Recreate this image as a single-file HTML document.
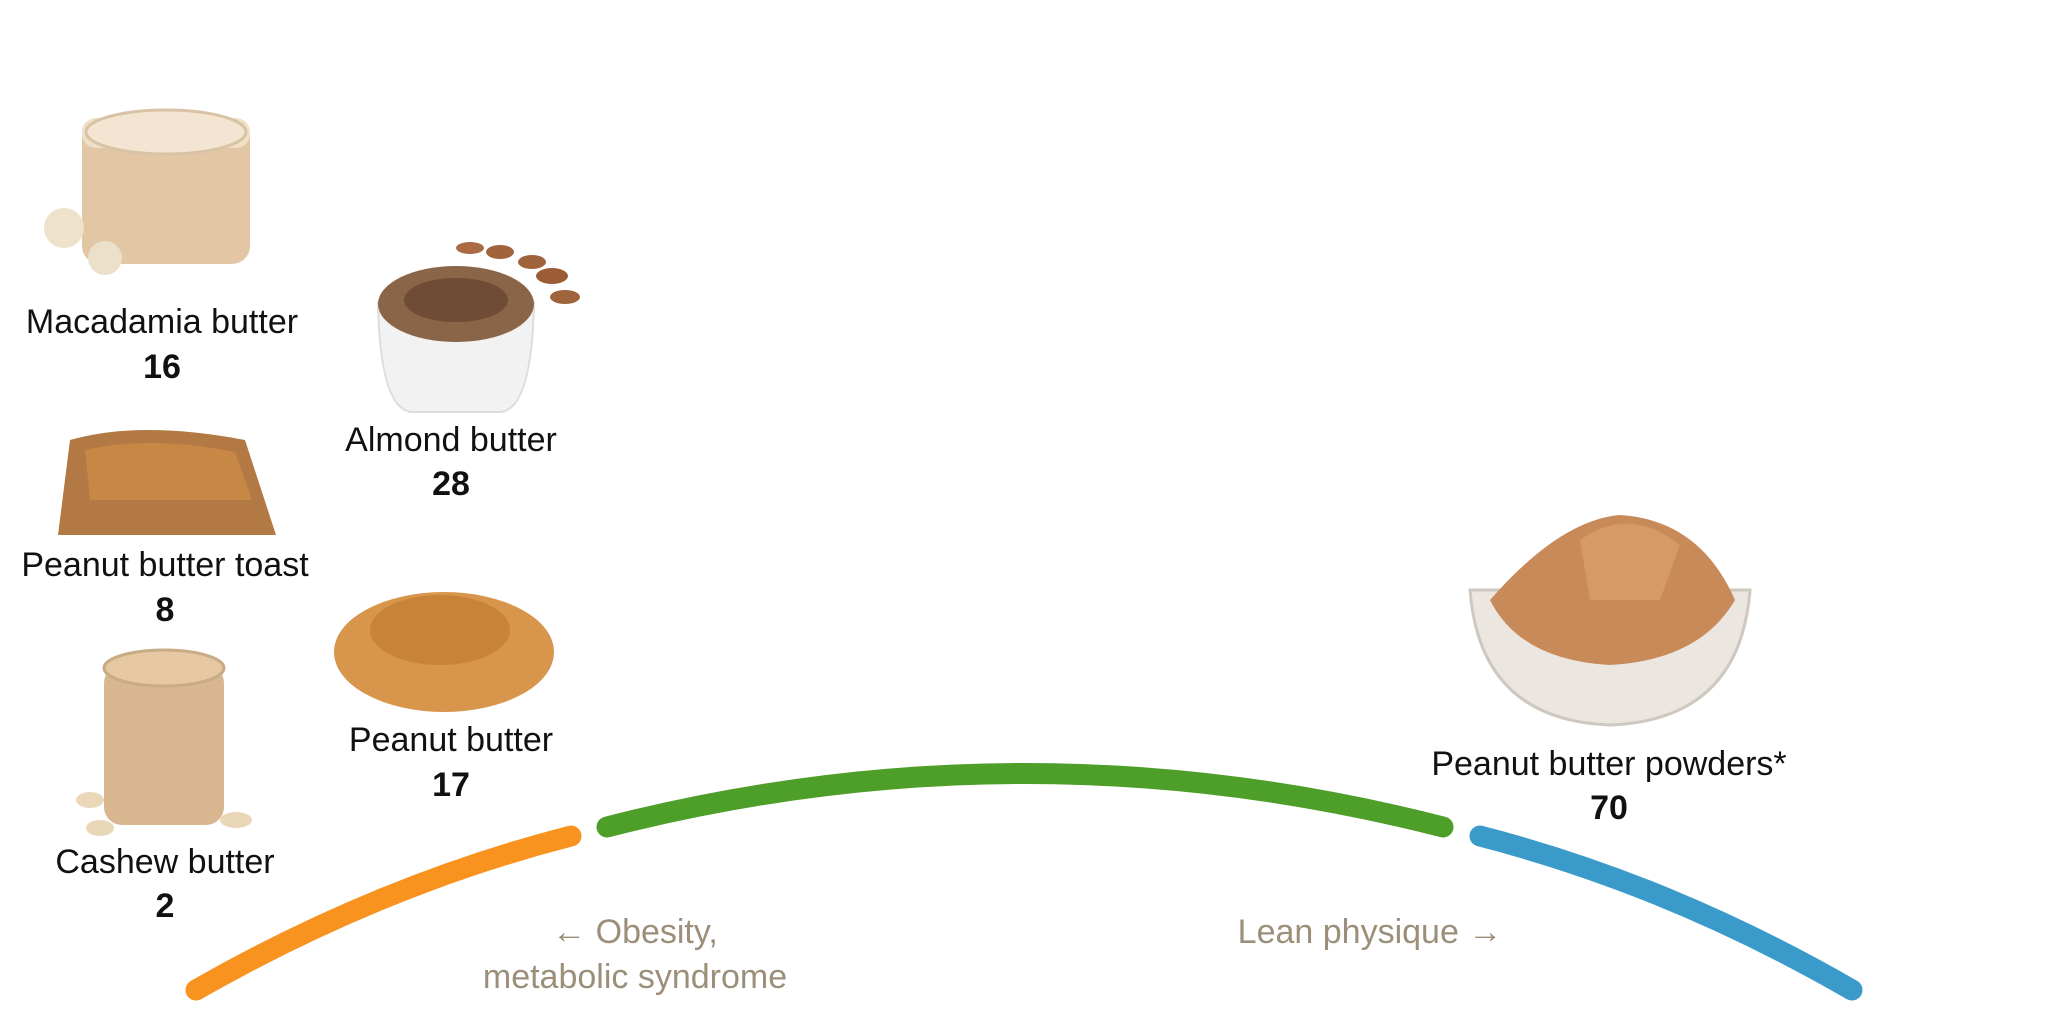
<!DOCTYPE html>
<html><head><meta charset="utf-8"><style>
html,body{margin:0;padding:0;background:#fff;}
svg{display:block}
text{font-family:"Liberation Sans",sans-serif;}
</style></head><body>
<svg width="2048" height="1031" viewBox="0 0 2048 1031" xmlns="http://www.w3.org/2000/svg">
<!-- arcs -->
<path d="M196 990 Q380 885 571 836" stroke="#f7931e" stroke-width="21" fill="none" stroke-linecap="round"/>
<path d="M607 827 Q1025 720 1443 827" stroke="#4e9e2a" stroke-width="21" fill="none" stroke-linecap="round"/>
<path d="M1480 836 Q1670 885 1852 990" stroke="#3a9bcb" stroke-width="21" fill="none" stroke-linecap="round"/>

<!-- macadamia jar -->
<rect x="82" y="118" width="168" height="146" rx="18" fill="#e3c7a5"/>
<rect x="82" y="118" width="168" height="30" rx="14" fill="#f0e0c8"/>
<ellipse cx="166" cy="132" rx="80" ry="22" fill="#f3e5d2" stroke="#d8c3a6" stroke-width="3"/>
<circle cx="64" cy="228" r="20" fill="#efe2cc"/>
<circle cx="105" cy="258" r="17" fill="#ede0cb"/>
<!-- almond bowl -->
<path d="M378 302 Q380 410 412 412 L500 412 Q532 410 534 302 Z" fill="#f2f2f2" stroke="#ddd" stroke-width="2"/>
<ellipse cx="456" cy="304" rx="78" ry="38" fill="#8a6548"/>
<ellipse cx="456" cy="300" rx="52" ry="22" fill="#6e4c35"/>
<ellipse cx="500" cy="252" rx="14" ry="7" fill="#a0643c"/>
<ellipse cx="532" cy="262" rx="14" ry="7" fill="#a0643c"/>
<ellipse cx="552" cy="276" rx="16" ry="8" fill="#9c5d36"/>
<ellipse cx="565" cy="297" rx="15" ry="7" fill="#a0643c"/>
<ellipse cx="470" cy="248" rx="14" ry="6" fill="#a86b43"/>
<!-- toast -->
<path d="M70 440 Q140 420 245 440 L276 535 L58 535 Z" fill="#b27945"/>
<path d="M85 450 Q150 435 235 452 L252 500 L90 500 Z" fill="#c88845"/>
<!-- peanut butter blob -->
<ellipse cx="444" cy="652" rx="110" ry="60" fill="#d8964c"/>
<ellipse cx="440" cy="630" rx="70" ry="35" fill="#c98338"/>
<!-- cashew jar -->
<rect x="104" y="665" width="120" height="160" rx="18" fill="#d7b690"/>
<ellipse cx="164" cy="668" rx="60" ry="18" fill="#e6c9a3" stroke="#c9ab86" stroke-width="3"/>
<ellipse cx="90" cy="800" rx="14" ry="8" fill="#ead7b8"/>
<ellipse cx="236" cy="820" rx="16" ry="8" fill="#ead7b8"/>
<ellipse cx="100" cy="828" rx="14" ry="8" fill="#ead7b8"/>
<!-- powder bowl -->
<path d="M1470 590 Q1480 720 1610 725 Q1740 720 1750 590 Z" fill="#ebe6e0" stroke="#cfc8c0" stroke-width="3"/>
<path d="M1490 600 Q1560 520 1620 515 Q1700 520 1735 600 Q1700 660 1610 665 Q1520 660 1490 600Z" fill="#c98a5a"/>
<path d="M1580 540 Q1630 505 1680 545 L1660 600 L1590 600Z" fill="#d59a68"/>

<!-- labels -->
<g fill="#111" text-anchor="middle">
<text x="162" y="333" font-size="34">Macadamia butter</text>
<text x="162" y="378" font-size="34" font-weight="bold">16</text>
<text x="451" y="451" font-size="34">Almond butter</text>
<text x="451" y="495" font-size="34" font-weight="bold">28</text>
<text x="165" y="576" font-size="34">Peanut butter toast</text>
<text x="165" y="621" font-size="34" font-weight="bold">8</text>
<text x="451" y="751" font-size="34">Peanut butter</text>
<text x="451" y="796" font-size="34" font-weight="bold">17</text>
<text x="165" y="873" font-size="34">Cashew butter</text>
<text x="165" y="917" font-size="34" font-weight="bold">2</text>
<text x="1609" y="775" font-size="34">Peanut butter powders*</text>
<text x="1609" y="819" font-size="34" font-weight="bold">70</text>
</g>
<g fill="#9c8f7a" text-anchor="middle" font-size="34">
<text x="635" y="943">← Obesity,</text>
<text x="635" y="988">metabolic syndrome</text>
<text x="1370" y="943">Lean physique →</text>
</g>
</svg>
</body></html>
